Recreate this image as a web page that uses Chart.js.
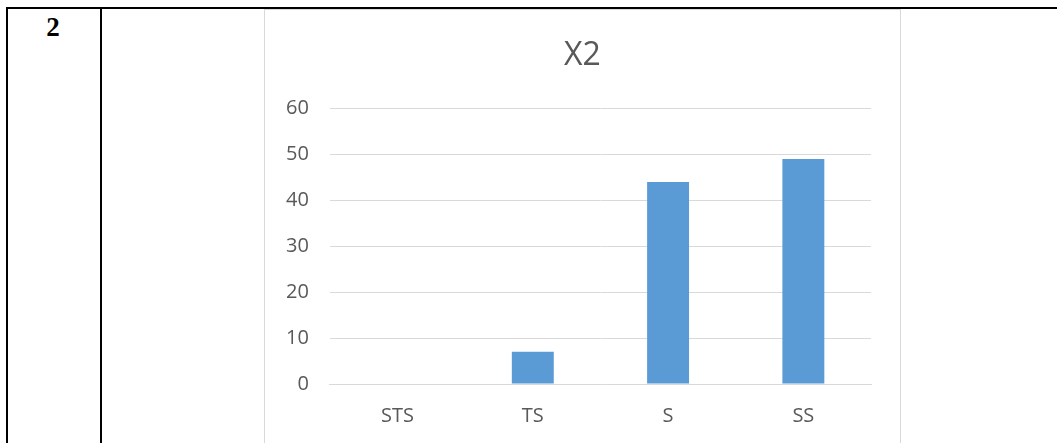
<!DOCTYPE html>
<html>
<head>
<meta charset="utf-8">
<script src="https://cdn.jsdelivr.net/npm/chart.js@4"></script>
<style>
  html, body { margin: 0; padding: 0; background: #fff; width: 1057px; height: 443px; overflow: hidden; }
  .line { position: absolute; background: #000; }
  #num { position: absolute; left: 39px; top: 12px; width: 28px; text-align: center;
         font: bold 27px "Liberation Serif", "Times New Roman", serif; color: #000; }
  #box { position: absolute; left: 264px; top: 9px; width: 637px; height: 440px;
         border: 1px solid #d9d9d9; box-sizing: border-box; }
  #box canvas { display: block; }
</style>
</head>
<body>
<div class="line" style="left:6px;top:7px;width:1051px;height:2px"></div>
<div class="line" style="left:6px;top:7px;width:2px;height:436px"></div>
<div class="line" style="left:100px;top:7px;width:2px;height:436px"></div>
<div id="num">2</div>
<div id="box"><canvas id="x2-chart" width="635" height="438"></canvas></div>
<script>
// X2 bar chart
const categories = ['STS', 'TS', 'S', 'SS'];
const values = [0, 7, 44, 49];
const yTicks = [0, 10, 20, 30, 40, 50, 60];

const ctx = document.getElementById('x2-chart').getContext('2d');
new Chart(ctx, {
    type: 'bar',
    data: {
        labels: categories,
        datasets: [{
            label: 'X2',
            data: values,
            backgroundColor: '#5b9bd5',
            borderWidth: 0,
            barPercentage: 0.31,
            categoryPercentage: 1
        }]
    },
    options: {
        responsive: false,
        animation: false,
        layout: { padding: { left: 0, right: 0, bottom: 0 } },
        plugins: {
            legend: { display: false },
            tooltip: { enabled: false },
            title: {
                display: true,
                text: 'X2',
                color: '#595959',
                font: { family: 'Open Sans', size: 32, weight: 'normal' },
                padding: { top: 27, bottom: 33 }
            }
        },
        scales: {
            x: {
                grid: { display: false, drawTicks: false },
                border: { color: '#d9d9d9', width: 1 },
                ticks: { color: '#595959', font: { family: 'Open Sans', size: 20 }, padding: 20 }
            },
            y: {
                min: 0,
                max: 60,
                afterBuildTicks: axis => { axis.ticks = yTicks.map(v => ({ value: v })); },
                grid: { color: '#d9d9d9', lineWidth: 1, drawTicks: false },
                border: { display: false },
                ticks: { color: '#595959', font: { family: 'Open Sans', size: 20 }, padding: 21 }
            },
            // empty right gutter so the title stays centred on the box
            gutter: {
                position: 'right',
                grid: { display: false, drawTicks: false },
                border: { display: false },
                ticks: { display: false },
                afterFit: scale => { scale.width = 29; }
            }
        }
    }
});
</script>
</body>
</html>
